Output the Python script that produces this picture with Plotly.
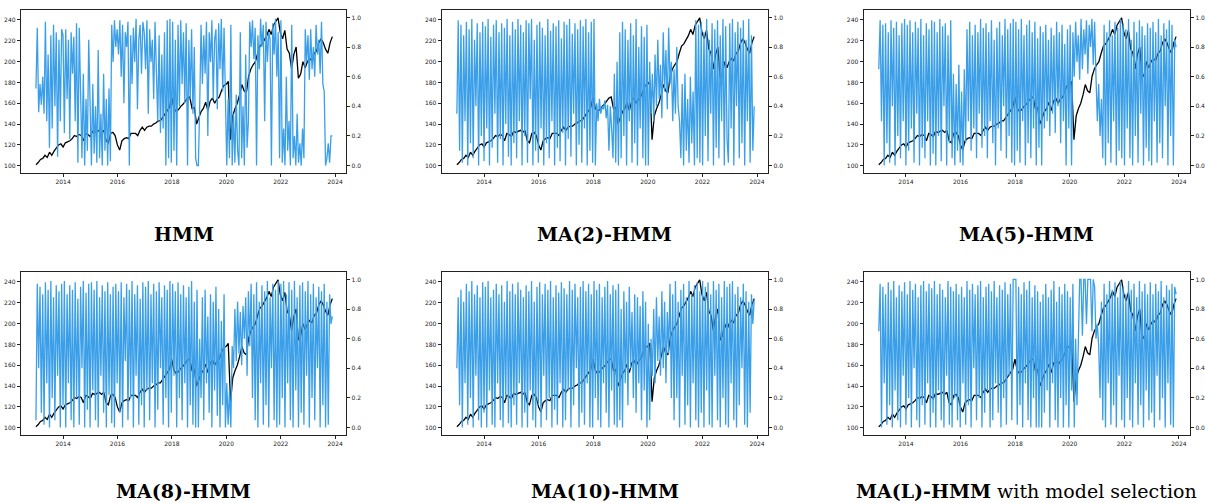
import plotly.graph_objects as go
import pandas as pd

# ---------------- data ----------------
price_values = [
    101, 103, 106, 107, 110, 108, 113, 110, 114, 117, 120, 121,
    118, 122, 123, 124, 126, 129, 128, 130, 129, 124, 131, 130,
    128, 133, 132, 133, 134, 132, 134, 124, 122, 131, 132, 129,
    120, 115, 124, 126, 127, 126, 131, 131, 131, 129, 134, 137,
    134, 137, 138, 138, 140, 141, 143, 143, 146, 150, 153, 156,
    166, 155, 152, 154, 157, 159, 162, 165, 166, 155, 156, 140,
    146, 152, 155, 161, 153, 162, 165, 160, 164, 166, 172, 177,
    178, 181, 125, 148, 155, 160, 168, 178, 172, 170, 186, 193,
    197, 200, 208, 215, 217, 221, 225, 231, 226, 235, 238, 242,
    228, 222, 230, 212, 208, 193, 207, 214, 184, 188, 200, 194,
    200, 203, 201, 208, 210, 218, 222, 218, 212, 208, 218, 224,
]

prob_hmm = [
    .52,.93,.36,.55,.41,.60,.35,.97,.30,.75,.12,.88,.25,.95,.40,.90,.06,.85,.30,.92,
    .88,.22,.92,.45,.85,.18,.90,.62,.87,.30,.96,.02,.93,.55,.05,.62,.00,.45,.10,.85,
    .30,.00,.55,.08,.40,.02,.78,.05,.35,.00,.62,.10,.45,.00,.52,.03,.95,.70,.98,.80,
    .92,.75,.98,.60,.95,.42,.90,.80,.97,.00,.88,.55,.93,.70,.99,.38,.85,.95,.62,.97,
    .90,.65,.98,.35,.92,.70,.85,.45,.97,.60,.30,.88,.22,.75,.25,.90,.00,.98,.05,.99,
    .02,.97,.10,.85,.00,.95,.40,.98,.55,.90,.42,.96,.00,.85,.45,.92,.35,.80,.05,.00,
    .00,.40,.95,.55,.88,.62,.97,.20,.90,.70,.98,.45,.85,.92,.38,.96,.65,.99,.50,.93,
    .30,.00,.45,.05,.95,.00,.35,.02,.48,.10,.00,.90,.05,.40,.00,.75,.12,.30,.97,.80,
    .98,.72,.93,.00,.88,.65,.99,.80,.95,.30,.97,.70,.90,.85,.00,.96,.75,.99,.60,.90,
    .05,.98,.02,.25,.00,.60,.10,.30,.00,.95,.05,.20,.00,.35,.02,.15,.00,.25,.05,.92,
    .70,.88,.58,.92,.65,.80,.60,.95,.75,.85,.62,.97,.55,.50,.00,.05,.15,.02,.20,.20,
]

prob_ma2 = [
    .35,.98,.10,.95,.02,.88,.30,.97,.00,.92,.15,.99,.05,.85,.40,.96,.00,.90,.20,.97,
    .03,.94,.25,.99,.00,.87,.12,.95,.35,.98,.02,.90,.18,.96,.00,.93,.28,.99,.06,.88,
    .00,.97,.15,.92,.05,.99,.30,.95,.00,.90,.20,.98,.02,.96,.45,.99,.00,.85,.10,.95,
    .02,.97,.25,.93,.00,.88,.15,.99,.05,.91,.30,.96,.00,.94,.12,.98,.03,.86,.22,.97,
    .00,.95,.18,.99,.06,.89,.35,.96,.00,.92,.14,.98,.02,.94,.25,.99,.00,.90,.10,.97,
    .02,.99,.00,.42,.30,.45,.35,.40,.38,.44,.32,.41,.10,.40,.25,.05,.62,.02,.70,.00,
    .90,.05,.97,.20,.92,.00,.85,.30,.96,.02,.88,.15,.99,.00,.80,.25,.94,.05,.87,.00,
    .95,.00,.70,.35,.62,.30,.75,.40,.85,.45,.68,.32,.90,.50,.78,.38,.93,.55,.70,.30,
    .65,.35,.80,.40,.30,.05,.55,.00,.62,.10,.45,.02,.60,.15,.50,.00,.98,.05,.95,.02,
    .97,.00,.90,.20,.99,.03,.85,.35,.96,.00,.92,.12,.98,.05,.88,.30,.99,.00,.94,.18,
    .02,.96,.25,.99,.00,.90,.40,.97,.05,.93,.15,.98,.00,.85,.30,.99,.02,.88,.10,.40,
]

prob_ma5 = [
    .65,.98,.30,.95,.00,.96,.15,.90,.02,.98,.40,.93,.00,.97,.20,.88,.05,.96,.30,.99,
    .00,.95,.10,.98,.25,.90,.02,.97,.35,.93,.00,.99,.12,.88,.05,.96,.30,.92,.00,.98,
    .08,.97,.00,.90,.20,.99,.03,.94,.40,.96,.00,.88,.15,.98,.05,.62,.00,.55,.10,.68,
    .02,.50,.00,.65,.15,.92,.30,.97,.10,.88,.25,.95,.05,.90,.35,.99,.12,.93,.20,.96,
    .05,.90,.30,.98,.15,.85,.00,.93,.25,.97,.10,.88,.40,.99,.05,.92,.20,.96,.02,.99,
    .00,.97,.10,.92,.02,.99,.30,.88,.00,.95,.15,.98,.05,.90,.25,.97,.00,.86,.12,.94,
    .00,.90,.25,.95,.30,.85,.20,.93,.35,.88,.22,.97,.40,.90,.15,.95,.30,.82,.00,.92,
    .25,.95,.00,.90,.60,.97,.70,.88,.58,.99,.65,.92,.75,.98,.62,.95,.80,.99,.68,.97,
    .60,.30,.55,.20,.45,.05,.95,.00,.90,.15,.98,.02,.88,.30,.97,.00,.93,.10,.99,.05,
    .96,.00,.92,.25,.99,.05,.85,.00,.97,.20,.90,.02,.98,.35,.94,.00,.88,.12,.96,.03,
    .93,.00,.97,.30,.90,.02,.99,.15,.88,.05,.96,.40,.92,.00,.98,.20,.95,.00,.85,.80,
]

prob_ma8 = [
    .05,.97,.40,.95,.10,.90,.02,.98,.30,.93,.00,.99,.20,.88,.05,.96,.35,.92,.00,.97,
    .15,.99,.00,.90,.30,.96,.05,.93,.00,.98,.20,.87,.02,.95,.40,.99,.00,.91,.12,.97,
    .00,.98,.25,.93,.05,.99,.00,.88,.35,.96,.10,.92,.00,.98,.22,.90,.03,.95,.00,.97,
    .30,.92,.10,.98,.00,.88,.45,.97,.05,.93,.20,.99,.00,.90,.35,.96,.02,.87,.15,.98,
    .00,.95,.25,.99,.05,.90,.30,.97,.00,.92,.12,.98,.40,.88,.02,.96,.20,.93,.00,.99,
    .10,.97,.35,.92,.00,.98,.20,.90,.05,.96,.30,.88,.00,.95,.15,.99,.02,.85,.00,.93,
    .00,.60,.20,.88,.05,.93,.30,.75,.10,.90,.00,.85,.25,.95,.08,.80,.00,.72,.15,.90,
    .00,.30,.02,.25,.00,.55,.40,.80,.45,.85,.50,.78,.42,.82,.60,.88,.35,.92,.55,.97,
    .20,.90,.05,.98,.00,.85,.30,.96,.02,.92,.15,.99,.00,.88,.40,.97,.05,.93,.00,.99,
    .02,.97,.20,.99,.00,.90,.30,.98,.05,.93,.00,.99,.25,.88,.00,.96,.10,.98,.02,.92,
    .35,.99,.00,.90,.20,.97,.05,.88,.40,.95,.00,.92,.15,.97,.00,.85,.02,.90,.70,.75,
]

prob_ma10 = [
    .40,.88,.15,.93,.00,.85,.30,.97,.02,.92,.20,.99,.00,.90,.35,.96,.05,.88,.00,.98,
    .10,.95,.00,.99,.25,.88,.02,.93,.00,.97,.30,.90,.05,.96,.00,.85,.20,.99,.03,.92,
    .00,.97,.15,.90,.02,.98,.30,.93,.00,.88,.10,.96,.00,.92,.25,.99,.05,.85,.00,.95,
    .15,.98,.00,.90,.35,.97,.05,.93,.20,.99,.00,.88,.12,.96,.02,.91,.30,.98,.00,.94,
    .05,.90,.25,.99,.00,.93,.15,.97,.40,.88,.00,.95,.10,.99,.02,.92,.30,.97,.00,.90,
    .00,.99,.20,.93,.05,.97,.00,.88,.30,.95,.10,.99,.00,.90,.25,.96,.02,.93,.00,.97,
    .05,.80,.00,.92,.30,.85,.15,.95,.40,.78,.20,.90,.10,.88,.30,.82,.05,.92,.25,.85,
    .00,.70,.05,.60,.35,.80,.30,.88,.45,.75,.35,.92,.40,.85,.30,.78,.50,.97,.20,.90,
    .05,.99,.20,.85,.00,.93,.35,.97,.02,.88,.15,.99,.00,.90,.30,.96,.05,.98,.00,.92,
    .10,.99,.00,.95,.25,.98,.02,.90,.00,.99,.35,.93,.05,.97,.00,.88,.20,.99,.02,.95,
    .00,.97,.30,.99,.05,.90,.00,.95,.15,.88,.40,.97,.02,.92,.00,.85,.10,.90,.70,.86,
]

prob_mal = [
    .65,.97,.00,.95,.30,.90,.02,.98,.15,.93,.00,.99,.25,.88,.05,.96,.00,.92,.35,.98,
    .02,.90,.20,.99,.00,.93,.40,.97,.05,.88,.00,.96,.15,.99,.02,.92,.30,.97,.00,.94,
    .10,.99,.00,.90,.25,.97,.05,.93,.00,.88,.35,.99,.02,.95,.00,.92,.20,.97,.05,.90,
    .00,.95,.30,.88,.02,.99,.15,.93,.00,.97,.40,.90,.05,.96,.20,.99,.00,.88,.10,.95,
    .25,.97,.00,.92,.05,.99,.30,.88,.10,.96,.00,.93,.20,.98,.02,.90,.35,.97,.05,1.0,
    1.0,1.0,.02,.95,.15,.90,.00,.98,.30,.93,.05,.99,.00,.88,.20,.96,.00,.92,.00,.85,
    .00,.90,.10,.97,.25,.88,.00,.93,.30,.99,.05,.85,.00,.95,.20,.90,.00,.97,.15,.92,
    .00,.88,.25,.97,.00,.60,.15,.70,1.0,1.0,.62,1.0,1.0,.70,1.0,1.0,1.0,.65,1.0,.95,
    .60,.70,.55,.20,.85,.05,.97,.00,.90,.30,.99,.02,.93,.15,.98,.00,.88,.35,.99,.05,
    .95,.00,.90,.20,.99,.05,.93,.00,.97,.30,.88,.02,.99,.15,.92,.00,.97,.25,.90,.05,
    .98,.10,.90,.00,.97,.35,.92,.05,.99,.20,.88,.00,.96,.30,.93,.02,.97,.00,.95,.90,
]

panel_titles = [
    "<b>HMM</b>", "<b>MA(2)-HMM</b>", "<b>MA(5)-HMM</b>",
    "<b>MA(8)-HMM</b>", "<b>MA(10)-HMM</b>",
    "<b>MA(L)-HMM</b> with model selection",
]
panel_probs = [prob_hmm, prob_ma2, prob_ma5, prob_ma8, prob_ma10, prob_mal]

start_date, end_date = "2013-01-02", "2023-11-24"
price_dates = pd.date_range(start_date, end_date, periods=len(price_values))

price_ticks = [100, 120, 140, 160, 180, 200, 220, 240]
prob_ticks = [0.0, 0.2, 0.4, 0.6, 0.8, 1.0]
year_ticks = ["2014-01-01", "2016-01-01", "2018-01-01", "2020-01-01",
              "2022-01-01", "2024-01-01"]

# ---------------- layout geometry (pixels) ----------------
W, H = 1205, 503
col_px = [(21, 348), (444, 772), (868, 1196)]
row_px = [(10, 173), (272, 435)]
title_y_px = [234, 491]

BLUE = "#3a9fe8"
tickfont = dict(family="DejaVu Sans", size=6, color="#222")

fig = go.Figure()
layout = dict(
    width=W, height=H,
    margin=dict(l=0, r=0, t=0, b=0),
    paper_bgcolor="white", plot_bgcolor="white",
    showlegend=False,
    annotations=[],
)

for k in range(6):
    r, c = divmod(k, 3)
    x0, x1 = col_px[c]
    y0, y1 = row_px[r]
    xd = [x0 / W, x1 / W]
    yd = [1 - y1 / H, 1 - y0 / H]
    n = k + 1
    ny = k + 7
    xs = "" if n == 1 else str(n)
    probs = panel_probs[k]
    prob_dates = pd.date_range(start_date, end_date, periods=len(probs))

    fig.add_trace(go.Scatter(
        x=price_dates, y=price_values, mode="lines",
        line=dict(color="black", width=1.3),
        xaxis="x" + xs, yaxis="y" + xs, hoverinfo="skip"))
    fig.add_trace(go.Scatter(
        x=prob_dates, y=probs, mode="lines",
        line=dict(color=BLUE, width=1.3),
        xaxis="x" + xs, yaxis="y" + str(ny), hoverinfo="skip"))

    layout["xaxis" + xs] = dict(
        domain=xd, anchor="y" + xs, type="date",
        range=["2012-06-14", "2024-05-29"],
        tickvals=year_ticks, tickformat="%Y",
        ticks="outside", ticklen=3, tickwidth=0.8, tickcolor="#222",
        tickfont=tickfont, showgrid=False, zeroline=False,
        showline=True, linecolor="#222", linewidth=1.3, mirror=True)
    layout["yaxis" + xs] = dict(
        domain=yd, anchor="x" + xs, range=[93, 249.6],
        tickvals=price_ticks, ticks="outside", ticklen=3, tickwidth=0.8,
        tickcolor="#222", tickfont=tickfont, showgrid=False, zeroline=False,
        showline=True, linecolor="#222", linewidth=1.3, mirror=True)
    layout["yaxis" + str(ny)] = dict(
        overlaying="y" + xs, anchor="x" + xs, side="right",
        range=[-0.05, 1.05], tickvals=prob_ticks, tickformat=".1f",
        ticks="outside", ticklen=3, tickwidth=0.8, tickcolor="#222",
        tickfont=tickfont, showgrid=False, zeroline=False,
        showline=True, linecolor="#222", linewidth=1.3)

    layout["annotations"].append(dict(
        text=panel_titles[k], xref="paper", yref="paper",
        x=(x0 + x1) / 2 / W, y=1 - title_y_px[r] / H,
        xanchor="center", yanchor="middle", showarrow=False,
        font=dict(family="DejaVu Serif", size=19, color="black")))

fig.update_layout(**layout)
fig.write_html("out.html")
